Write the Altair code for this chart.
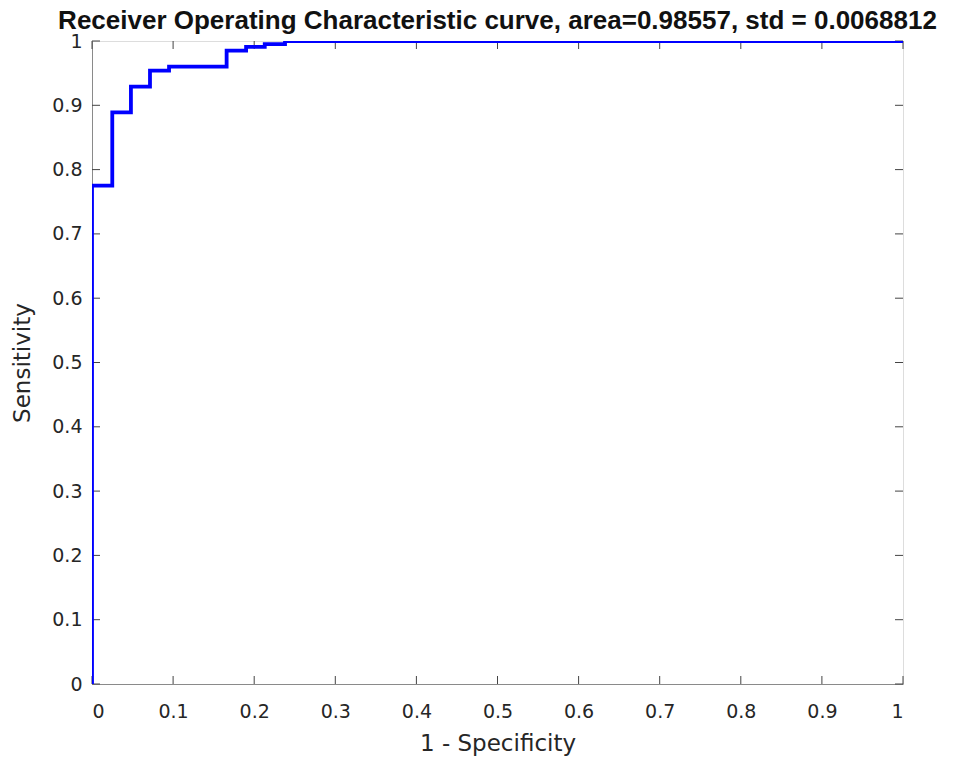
import altair as alt
import pandas as pd

# ROC curve corner points (1 - specificity, sensitivity)
fpr = [0.0, 0.0, 0.025, 0.025, 0.048, 0.048, 0.0715, 0.0715, 0.095, 0.095,
       0.166, 0.166, 0.19, 0.19, 0.213, 0.213, 0.238, 0.238, 1.0]
tpr = [0.0, 0.775, 0.775, 0.889, 0.889, 0.929, 0.929, 0.954, 0.954, 0.96,
       0.96, 0.985, 0.985, 0.991, 0.991, 0.995, 0.995, 1.0, 1.0]
ticks = [0, 0.1, 0.2, 0.3, 0.4, 0.5, 0.6, 0.7, 0.8, 0.9, 1]

W, H = 811, 643
FONT = "DejaVu Sans"
TFONT = "Liberation Sans"
GRAY = "#8a8a8a"
TICK = "#444444"
TXT = "#262626"

df = pd.DataFrame({"fpr": fpr, "tpr": tpr, "order": list(range(len(fpr)))})
tdf = pd.DataFrame({"t": ticks})

xs = alt.Scale(domain=[0, 1], nice=False)
ys = alt.Scale(domain=[0, 1], nice=False)

line = alt.Chart(df).mark_line(color="#0000ff", strokeWidth=3.8, clip=True).encode(
    x=alt.X("fpr:Q", scale=xs, title="1 - Specificity",
            axis=alt.Axis(values=ticks, format="~g", tickSize=0, labelPadding=18,
                          domainColor=GRAY, grid=False, labelFontSize=19,
                          titleFontSize=23, titleFontWeight="normal", titlePadding=11,
                          labelColor=TXT, titleColor=TXT, labelFont=FONT, titleFont=FONT)),
    y=alt.Y("tpr:Q", scale=ys, title="Sensitivity",
            axis=alt.Axis(values=ticks, format="~g", tickSize=0, labelPadding=10,
                          domainColor=GRAY, grid=False, labelFontSize=19,
                          titleFontSize=23, titleFontWeight="normal", titlePadding=17,
                          labelColor=TXT, titleColor=TXT, labelFont=FONT, titleFont=FONT)),
    order="order:Q",
)

tick_len = 8
xb = alt.Chart(tdf).mark_rule(color=TICK, strokeWidth=1).encode(
    x=alt.X("t:Q", scale=xs), y=alt.value(H), y2=alt.value(H - tick_len))
xt = alt.Chart(tdf).mark_rule(color=TICK, strokeWidth=1).encode(
    x=alt.X("t:Q", scale=xs), y=alt.value(0), y2=alt.value(tick_len))
yl = alt.Chart(tdf).mark_rule(color=TICK, strokeWidth=1).encode(
    y=alt.Y("t:Q", scale=ys), x=alt.value(0), x2=alt.value(tick_len))
yr = alt.Chart(tdf).mark_rule(color=TICK, strokeWidth=1).encode(
    y=alt.Y("t:Q", scale=ys), x=alt.value(W), x2=alt.value(W - tick_len))

chart = alt.layer(xb, xt, yl, yr, line).properties(
    width=W, height=H,
    title=alt.TitleParams("Receiver Operating Characteristic curve, area=0.98557, std = 0.0068812",
                          font=TFONT, fontSize=26, fontWeight="bold", color="#111",
                          anchor="middle", offset=1, dy=3),
    autosize=alt.AutoSizeParams(type="none"),
    padding={"left": 84, "top": 33, "right": 63, "bottom": 72},
).configure_view(stroke=GRAY, strokeWidth=1.5).configure(background="white")

chart.save("out.html", embed_options={"renderer": "svg", "actions": False})
